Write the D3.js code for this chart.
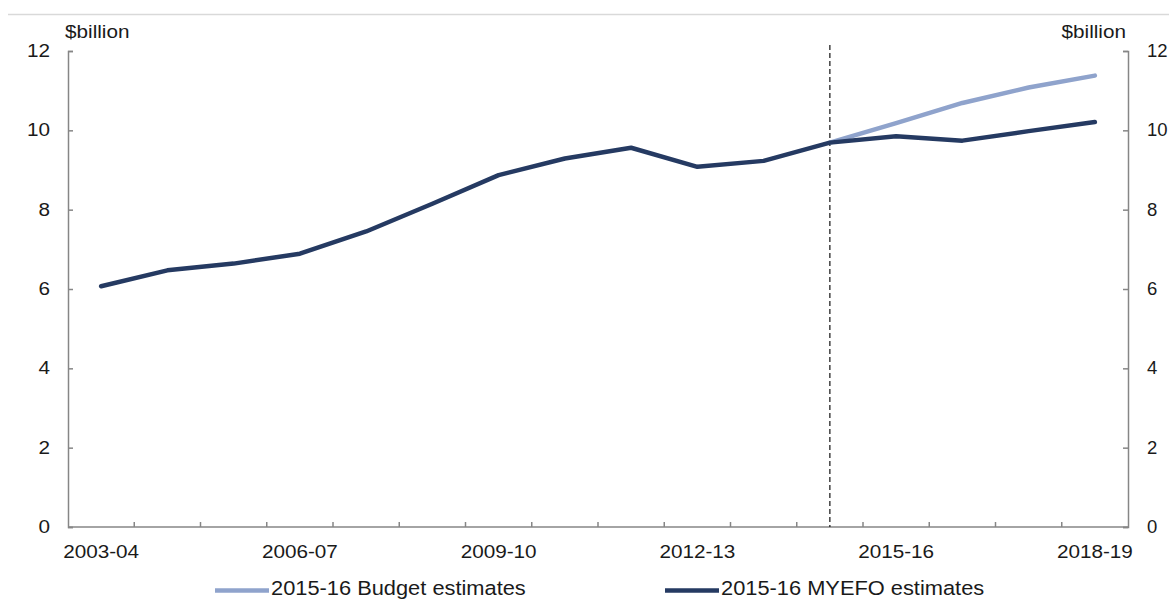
<!DOCTYPE html>
<html>
<head>
<meta charset="utf-8">
<script src="https://cdn.jsdelivr.net/npm/d3@7"></script>
<style>
  html, body { margin: 0; padding: 0; background: #fff; }
  svg { display: block; font-family: "Liberation Sans", Arial, sans-serif; }
</style>
</head>
<body>
<svg id="chart" width="1169" height="599"></svg>
<script>
// Financial years shown on the x axis
const years = ["2003-04","2004-05","2005-06","2006-07","2007-08","2008-09","2009-10","2010-11",
               "2011-12","2012-13","2013-14","2014-15","2015-16","2016-17","2017-18","2018-19"];
const tickYears = ["2003-04","2006-07","2009-10","2012-13","2015-16","2018-19"];
const yTicks = [0, 2, 4, 6, 8, 10, 12];

// 2015-16 MYEFO estimates ($billion)
const myefo = [6.07, 6.47, 6.64, 6.89, 7.45, 8.15, 8.87, 9.29, 9.56, 9.08, 9.23, 9.69, 9.85, 9.74, 9.98, 10.21];
// 2015-16 Budget estimates ($billion), from 2014-15 onwards
const budgetYears = ["2014-15","2015-16","2016-17","2017-18","2018-19"];
const budget = [9.69, 10.18, 10.69, 11.08, 11.38];

const seriesNames = ["2015-16 Budget estimates", "2015-16 MYEFO estimates"];
const colors = ["#8FA3CC", "#253A62"];
const splitYear = "2014-15";

const svg = d3.select("#chart");
const plotLeft = 68, plotRight = 1128, plotTop = 51, plotBottom = 527;

const x = d3.scaleBand().domain(years).range([plotLeft, plotRight]);
const y = d3.scaleLinear().domain([0, 12]).range([plotBottom, plotTop]);

const axisColor = "#868686";
const textColor = "#1a1a1a";
const stretch = 1.12;   // slightly wide lettering

// places a text at (tx, ty) with the given anchor, widened horizontally
function label(parent, tx, ty, str, size, anchor, sx) {
  return parent.append("text")
    .attr("transform", `translate(${tx},${ty}) scale(${sx || stretch},1)`)
    .attr("text-anchor", anchor || "start")
    .attr("font-size", size)
    .attr("fill", textColor)
    .text(str);
}

// top rule
svg.append("line").attr("x1", 8).attr("x2", 1169).attr("y1", 14.5).attr("y2", 14.5)
  .attr("stroke", "#d9d9d9").attr("stroke-width", 1.5);

// x axis: ticks at band boundaries, pointing inward
const xAxisG = svg.append("g");
xAxisG.append("line").attr("x1", plotLeft).attr("x2", plotRight).attr("y1", plotBottom).attr("y2", plotBottom)
  .attr("stroke", axisColor).attr("stroke-width", 1.5);
years.forEach((yr, i) => {
  if (i === 0) return;
  const bx = x(yr);
  xAxisG.append("line").attr("x1", bx).attr("x2", bx).attr("y1", plotBottom).attr("y2", plotBottom - 5)
    .attr("stroke", axisColor).attr("stroke-width", 1.5);
});
tickYears.forEach(d => label(xAxisG, x(d) + x.bandwidth() / 2, plotBottom + 31, d, 18.5, "middle"));

// left y axis (ticks inward)
const yl = d3.axisRight(y).tickValues(yTicks).tickSize(5).tickFormat("");
const ylG = svg.append("g").attr("transform", `translate(${plotLeft},0)`).call(yl);
// right y axis (ticks inward)
const yr = d3.axisLeft(y).tickValues(yTicks).tickSize(5).tickFormat("");
const yrG = svg.append("g").attr("transform", `translate(${plotRight},0)`).call(yr);
[ylG, yrG].forEach(g => {
  g.select(".domain").attr("stroke", axisColor).attr("stroke-width", 1.5);
  g.selectAll(".tick line").attr("stroke", axisColor).attr("stroke-width", 1.5);
});
// y tick labels
yTicks.forEach(d => {
  label(svg, plotLeft - 18, y(d) + 6, d, 18.5, "end");
  label(svg, plotRight + 19, y(d) + 6, d, 18.5, "start", 1.0);
});

// unit labels
label(svg, 65, 38, "$billion", 18.5, "start");
label(svg, 1126, 38, "$billion", 18.5, "end");

// dashed divider between actuals and estimates
const sx = x(splitYear) + x.bandwidth() / 2;
svg.append("line").attr("x1", sx).attr("x2", sx).attr("y1", 45).attr("y2", plotBottom)
  .attr("stroke", "#111").attr("stroke-width", 1.2).attr("stroke-dasharray", "5,3");

const line = d3.line().x(d => x(d[0]) + x.bandwidth() / 2).y(d => y(d[1]));

svg.append("path")
  .datum(budgetYears.map((yrName, i) => [yrName, budget[i]]))
  .attr("d", line).attr("fill", "none").attr("stroke", colors[0])
  .attr("stroke-width", 4.5).attr("stroke-linecap", "round").attr("stroke-linejoin", "round");

svg.append("path")
  .datum(years.map((yrName, i) => [yrName, myefo[i]]))
  .attr("d", line).attr("fill", "none").attr("stroke", colors[1])
  .attr("stroke-width", 4.5).attr("stroke-linecap", "round").attr("stroke-linejoin", "round");

// legend
const legend = [
  { name: seriesNames[0], color: colors[0], x: 215 },
  { name: seriesNames[1], color: colors[1], x: 665 }
];
legend.forEach(l => {
  svg.append("line").attr("x1", l.x).attr("x2", l.x + 54).attr("y1", 590.5).attr("y2", 590.5)
    .attr("stroke", l.color).attr("stroke-width", 4.5);
  label(svg, l.x + 56, 595, l.name, 19.5, "start");
});
</script>
</body>
</html>
